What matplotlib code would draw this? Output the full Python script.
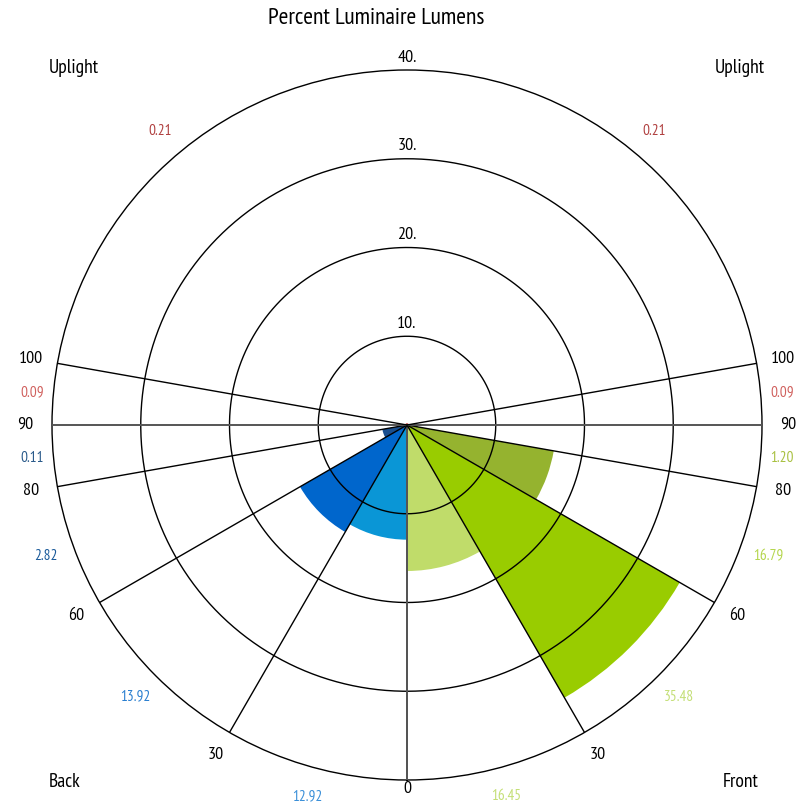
import numpy as np
import matplotlib
matplotlib.use('Agg')
import matplotlib.pyplot as plt

plt.rcParams['font.family'] = ['PT Sans Narrow', 'Roboto Condensed', 'DejaVu Sans']

# zone edges in degrees from nadir
edges = [0, 30, 60, 80, 90, 100, 180]
front_vals = [16.45, 35.48, 16.79, 1.20, 0.09, 0.21]
back_vals = [12.92, 13.92, 2.82, 0.11, 0.09, 0.21]
front_labels = ['16.45', '35.48', '16.79', '1.20', '0.09', '0.21']
back_labels = ['12.92', '13.92', '2.82', '0.11', '0.09', '0.21']
front_colors = ['#c0dc6a', '#99cc00', '#95b32f', '#95b32f', '#c0504d', '#c0504d']
back_colors = ['#0a96d6', '#0066cc', '#1a4f8f', '#1a4f8f', '#c0504d', '#c0504d']
front_text_colors = ['#c4df77', '#c4df77', '#b5d64e', '#a8c040', '#d0605d', '#b04040']
back_text_colors = ['#3a8fd8', '#2a7fd0', '#1a5a9a', '#2a5a8a', '#d0605d', '#b04040']
rings = [10, 20, 30, 40]
ring_labels = ['10.', '20.', '30.', '40.']
angle_ticks = [0, 30, 60, 80, 90, 100]

fig = plt.figure(figsize=(8, 8.06), dpi=100)
ax = fig.add_axes([52 / 800, 26 / 806, 710 / 800, 710 / 806], projection='polar')
ax.set_theta_zero_location('S')
ax.set_theta_direction(1)
ax.set_ylim(0, 40)
ax.grid(False)
ax.set_xticks([])
ax.set_yticks([])
ax.spines['polar'].set_linewidth(1.0)
ax.spines['polar'].set_color('black')

lo = np.radians(edges[:-1])
hi = np.radians(edges[1:])
mid = (lo + hi) / 2
wid = hi - lo

# bars
ax.bar(mid, front_vals, width=wid, color=front_colors, edgecolor='none', zorder=1)
ax.bar(-mid, back_vals, width=wid, color=back_colors, edgecolor='none', zorder=1)

# rings
tt = np.linspace(0, 2 * np.pi, 400)
for r in rings[:-1]:
    ax.plot(tt, np.full_like(tt, r), color='black', lw=1.0, zorder=3)

# spokes
for a in angle_ticks:
    col = '#555555' if a in (0, 90) else 'black'
    lw = 1.4 if a in (0, 90) else 1.0
    for s in (1, -1):
        ax.plot([s * np.radians(a)] * 2, [0, 40], color=col, lw=lw, zorder=3)

# ring labels on top
for r, lab in zip(rings, ring_labels):
    ax.text(np.pi, r + 0.5, lab, ha='center', va='bottom', fontsize=13)

# angle labels
for a in angle_ticks:
    rr = 43.0 if a > 0 else 41.0
    ax.text(np.radians(a), rr, str(a), ha='center', va='center', fontsize=13, clip_on=False)
    if a > 0:
        ax.text(-np.radians(a), rr, str(a), ha='center', va='center', fontsize=13, clip_on=False)

# value labels (the ones next to the horizon sit a little closer in)
for i, m in enumerate(mid):
    rr = 42.4 if i in (3, 4) else 43.3
    ax.text(m, rr, front_labels[i], ha='center', va='center', fontsize=11,
            color=front_text_colors[i], clip_on=False)
    ax.text(-m, rr, back_labels[i], ha='center', va='center', fontsize=11,
            color=back_text_colors[i], clip_on=False)

# zone names
for ang, r, name in [(43.1, 55.1, 'Front'), (-43.8, 55.7, 'Back'),
                     (137, 55, 'Uplight'), (-137, 55, 'Uplight')]:
    ax.text(np.radians(ang), r, name, ha='center', va='center', fontsize=14, clip_on=False)

fig.text(376 / 800, 1 - 18 / 806, 'Percent Luminaire Lumens', ha='center', va='center', fontsize=17)

fig.savefig('out.png', dpi=100)
